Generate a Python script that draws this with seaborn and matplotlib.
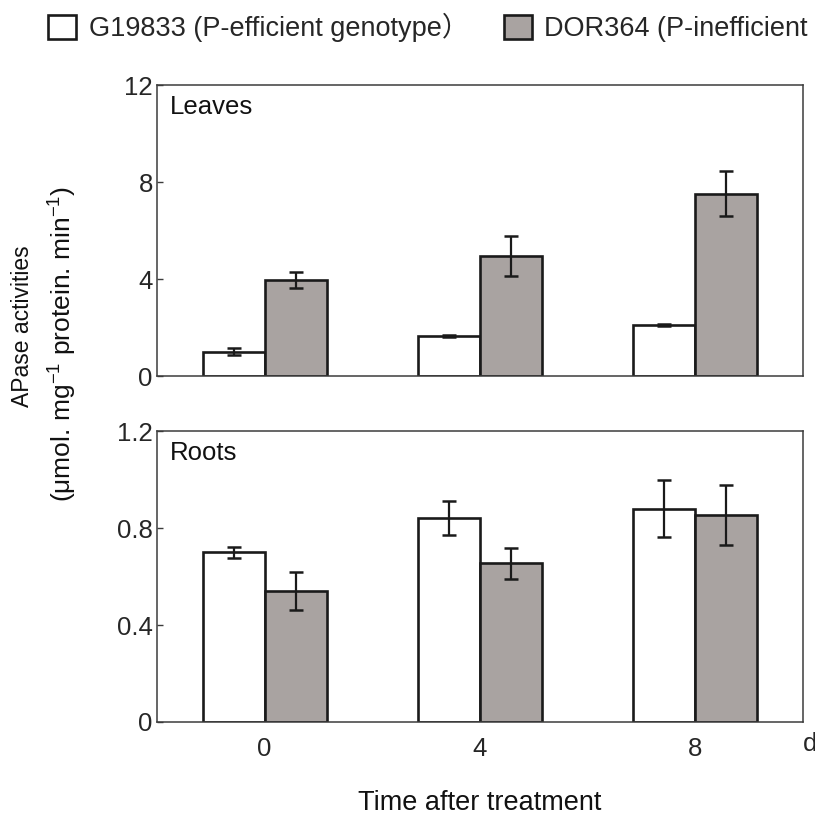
import matplotlib
matplotlib.use("Agg")
import matplotlib.pyplot as plt
from matplotlib.patches import Patch
import numpy as np
import pandas as pd
import seaborn as sns

days = ['0', '4', '8']
genotypes = ['G19833 (P-efficient genotype\uff09', 'DOR364 (P-inefficient genotype)']

# leaves, umol mg-1 protein min-1
leaves_g19833 = [1.0, 1.65, 2.1]
leaves_g19833_err = [0.15, 0.05, 0.05]
leaves_dor364 = [3.95, 4.95, 7.52]
leaves_dor364_err = [0.32, 0.82, 0.92]

# roots
roots_g19833 = [0.70, 0.84, 0.88]
roots_g19833_err = [0.022, 0.07, 0.118]
roots_dor364 = [0.54, 0.655, 0.853]
roots_dor364_err = [0.08, 0.064, 0.123]

sns.set_style('white')
plt.rcParams['font.family'] = ['Liberation Sans', 'Noto Sans CJK SC', 'DejaVu Sans']
plt.rcParams['mathtext.fontset'] = 'custom'
plt.rcParams['mathtext.rm'] = 'Liberation Sans'
plt.rcParams['mathtext.it'] = 'Liberation Sans'

EDGE = '#1a1a1a'
SPINE = '#3c3c3c'
colors = ['white', '#a9a3a1']


def make_df(g, d):
    return pd.DataFrame({
        'day': days * 2,
        'genotype': [genotypes[0]] * 3 + [genotypes[1]] * 3,
        'value': g + d,
    })


def draw_panel(ax, g, g_err, d, d_err, ticks, ticklabels, title):
    df = make_df(g, d)
    sns.barplot(data=df, x='day', y='value', hue='genotype', hue_order=genotypes,
                order=days, palette=colors, width=0.575, gap=0, errorbar=None,
                edgecolor=EDGE, linewidth=1.9, legend=False, ax=ax, saturation=1)
    for cont, err in zip(ax.containers, [g_err, d_err]):
        xs = [p.get_x() + p.get_width() / 2 for p in cont.patches]
        ys = [p.get_height() for p in cont.patches]
        ax.errorbar(xs, ys, yerr=err, fmt='none', ecolor=EDGE, elinewidth=1.6,
                    capsize=5, capthick=1.8, zorder=5)
    ax.set_xlim(-0.5, 2.5)
    ax.set_ylim(ticks[0], ticks[-1])
    ax.set_yticks(ticks)
    ax.set_yticklabels(ticklabels)
    ax.set_xlabel('')
    ax.set_ylabel('')
    for s in ax.spines.values():
        s.set_color(SPINE)
        s.set_linewidth(1.1)
        s.set_visible(True)
    ax.tick_params(axis='y', direction='in', length=4, width=1, color=SPINE,
                   labelsize=18.5, pad=3, left=True)
    ax.text(0.02, 0.925, title, transform=ax.transAxes, fontsize=18.5,
            ha='left', va='center', color='#111111')


fig = plt.figure(figsize=(8.15, 8.16), dpi=100)
ax1 = fig.add_axes([0.1926, 0.5392, 0.7926, 0.3566])
ax2 = fig.add_axes([0.1926, 0.1152, 0.7926, 0.3566])

draw_panel(ax1, leaves_g19833, leaves_g19833_err, leaves_dor364, leaves_dor364_err,
           [0, 4, 8, 12], ['0', '4', '8', '12'], 'Leaves')
draw_panel(ax2, roots_g19833, roots_g19833_err, roots_dor364, roots_dor364_err,
           [0, 0.4, 0.8, 1.2], ['0', '0.4', '0.8', '1.2'], 'Roots')

ax1.tick_params(axis='x', bottom=False, labelbottom=False)
ax2.tick_params(axis='x', bottom=False, labelsize=18.5, pad=7)
ax2.set_xlabel('Time after treatment', fontsize=19.5, labelpad=21, color='#111111')
ax2.annotate('d', xy=(1, 0), xycoords='axes fraction', xytext=(5, -7),
             textcoords='offset points', ha='center', va='top', fontsize=18.5)

fig.text(23 / 815, 1 - 326 / 816, 'APase activities', rotation=90,
         ha='center', va='center', fontsize=16.5, color='#111111')
fig.text(63 / 815, 1 - 344 / 816,
         '(\u03bcmol. mg$^{-1}$ protein. min$^{-1}$)', rotation=90,
         ha='center', va='center', fontsize=19, color='#111111')

handles = [Patch(facecolor=c, edgecolor=EDGE, linewidth=1.9) for c in colors]
fig.legend(handles, genotypes, loc='upper left', bbox_to_anchor=(48 / 815, 1 - 13 / 816),
           ncol=2, frameon=False, fontsize=19.5, borderpad=0, borderaxespad=0,
           handlelength=1.05, handleheight=1.0, handletextpad=0.45, columnspacing=1.3)

fig.savefig('out.png', dpi=100)
